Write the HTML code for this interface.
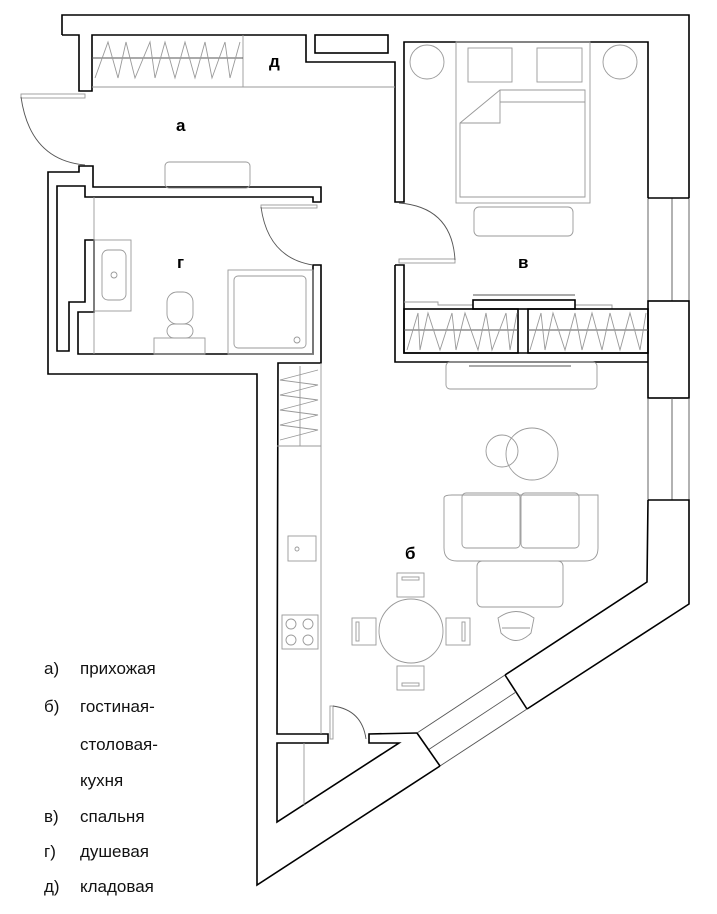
<!DOCTYPE html>
<html><head><meta charset="utf-8"><style>
html,body{margin:0;padding:0;background:#fff;width:717px;height:914px;overflow:hidden}
svg{display:block}
.w{fill:none;stroke:#000;stroke-width:1.6}
.t{fill:none;stroke:#999;stroke-width:0.9}
.tk{fill:none;stroke:#555;stroke-width:0.9}
.lab{font-family:"Liberation Sans","DejaVu Sans",sans-serif;font-weight:bold;font-size:17px;fill:#000}
.leg{font-family:"Liberation Sans","DejaVu Sans",sans-serif;font-size:17px;fill:#111}
</style></head><body>
<svg width="717" height="914" viewBox="0 0 717 914" xmlns="http://www.w3.org/2000/svg">
<!-- top / entry wall -->
<polyline class="w" points="62,35 62,15 689,15 689,198"/>
<polyline class="w" points="62,35 79,35 79,91 92,91 92,35 306,35 306,62 395,62 395,202 404,202 404,42 648,42 648,198"/>
<rect class="w" x="315" y="35" width="73" height="18"/>
<!-- right windows & blocks -->
<line class="tk" x1="648" y1="198" x2="648" y2="301"/><line class="tk" x1="672" y1="198" x2="672" y2="301"/><line class="tk" x1="689" y1="198" x2="689" y2="301"/>
<line class="w" x1="648" y1="198" x2="689" y2="198"/>
<rect class="w" x="648" y="301" width="41" height="97"/>
<line class="tk" x1="648" y1="398" x2="648" y2="500"/><line class="tk" x1="672" y1="398" x2="672" y2="500"/><line class="tk" x1="689" y1="398" x2="689" y2="500"/>
<polyline class="w" points="648,500 689,500 689,604 527,709"/>
<polyline class="w" points="648,500 647,582 505,675"/>
<line class="w" x1="505" y1="675" x2="527" y2="709"/>
<line class="tk" x1="505" y1="675" x2="417" y2="733"/>
<line class="tk" x1="516" y1="692" x2="428" y2="750"/>
<line class="tk" x1="527" y1="709" x2="440" y2="766"/>
<line class="w" x1="417" y1="733" x2="440" y2="766"/>
<polyline class="w" points="440,766 257,885 257,374 48,374 48,172 79,172 79,166 93,166 93,187 321,187 321,202 313,202 313,197 85,197 85,186 57,186 57,351 69,351 69,302 85,302 85,240 94,240 94,312 78,312 78,354 313,354 313,265 321,265 321,363 278,363 277,734 328,734 328,743 277,743 277,822 399,743 369,743 369,734 417,733"/>
<line class="t" x1="304" y1="743" x2="304" y2="805"/>
<!-- bedroom lower wall -->
<polyline class="w" points="395,265 404,265 404,353 648,353"/>
<polyline class="w" points="395,265 395,362 648,362"/>
<!-- entry door -->
<rect class="t" x="21" y="94" width="64" height="4"/>
<path class="tk" d="M21,97 Q30,160 85,165"/>
<!-- bathroom door -->
<rect class="t" x="261" y="205" width="56" height="3"/>
<path class="tk" d="M261,207 Q268,258 313,265"/>
<!-- bedroom door -->
<rect class="t" x="399" y="259" width="56" height="4"/>
<path class="tk" d="M399,203 Q452,207 455,260"/>
<!-- living door -->
<rect class="t" x="330" y="706" width="3" height="33"/>
<path class="tk" d="M333,706 Q362,710 366,739"/>
<!-- storage wardrobe -->
<line class="t" x1="92" y1="87" x2="395" y2="87"/>
<line class="t" x1="243" y1="35" x2="243" y2="87"/>
<line class="tk" x1="92" y1="58" x2="243" y2="58"/>
<polyline class="t" points="95,78 108,42 118,78 126,42 135,78 150,42 155,78 165,42 175,78 185,42 195,78 205,42 212,78 225,42 230,78 240,42"/>
<rect class="t" x="165" y="162" width="85" height="26" rx="4"/>
<!-- bathroom fixtures -->
<line class="t" x1="94" y1="197" x2="94" y2="354"/>
<rect class="t" x="94" y="240" width="37" height="71"/>
<rect class="t" x="102" y="250" width="24" height="50" rx="6"/>
<circle class="t" cx="114" cy="275" r="3"/>
<rect class="t" x="167" y="292" width="26" height="32" rx="10"/>
<rect class="t" x="167" y="324" width="26" height="14" rx="7"/>
<rect class="t" x="154" y="338" width="51" height="16"/>
<rect class="t" x="228" y="270" width="85" height="84"/>
<rect class="t" x="234" y="276" width="72" height="72" rx="4"/>
<circle class="t" cx="297" cy="340" r="3"/>
<!-- bedroom furniture -->
<circle class="t" cx="427" cy="62" r="17"/><circle class="t" cx="620" cy="62" r="17"/>
<rect class="t" x="456" y="42" width="134" height="161"/>
<rect class="t" x="468" y="48" width="44" height="34"/><rect class="t" x="537" y="48" width="45" height="34"/>
<path class="t" d="M500,90 L585,90 L585,197 L460,197 L460,123 Z M500,90 L500,123 L460,123 M500,102 L585,102"/>
<rect class="t" x="474" y="207" width="99" height="29" rx="5"/>
<!-- bedroom wardrobes -->
<polyline class="t" points="404,302 438,302 438,305 473,305"/>
<polyline class="t" points="575,305 612,305 612,309 648,309"/>
<rect class="w" x="473" y="300" width="102" height="9"/>
<line class="tk" x1="473" y1="295" x2="575" y2="295"/>
<rect class="w" x="404" y="309" width="114" height="44"/>
<rect class="w" x="528" y="309" width="120" height="44"/>
<line class="tk" x1="404" y1="330" x2="518" y2="330"/><line class="tk" x1="528" y1="330" x2="648" y2="330"/>
<polyline class="t" points="407,350 418,313 420,350 428,313 440,350 452,313 456,350 465,313 478,350 486,313 492,350 506,313 510,350 517,313"/>
<polyline class="t" points="530,350 541,313 545,350 553,313 565,350 575,313 582,350 592,313 602,350 610,313 620,350 630,313 640,350 646,313"/>
<!-- TV stand -->
<rect class="t" x="446" y="362" width="151" height="27" rx="4"/>
<line class="tk" x1="469" y1="366" x2="571" y2="366"/>
<!-- kitchen -->
<line class="t" x1="321" y1="363" x2="321" y2="734"/>
<line class="t" x1="277" y1="446" x2="321" y2="446"/>
<line class="t" x1="300" y1="366" x2="300" y2="446"/>
<polyline class="t" points="318,370 280,380 318,385 280,395 318,400 280,410 318,415 280,425 318,430 280,440"/>
<rect class="t" x="288" y="536" width="28" height="25"/><circle class="t" cx="297" cy="549" r="2"/>
<rect class="t" x="282" y="615" width="36" height="34"/>
<circle class="t" cx="291" cy="624" r="5"/><circle class="t" cx="308" cy="624" r="5"/><circle class="t" cx="291" cy="640" r="5"/><circle class="t" cx="308" cy="640" r="5"/>
<!-- living -->
<circle class="t" cx="502" cy="451" r="16"/><circle class="t" cx="532" cy="454" r="26"/>
<path class="t" d="M444,498 Q444,495 452,495 L598,495 L598,548 Q598,561 585,561 L457,561 Q444,561 444,548 Z"/>
<rect class="t" x="462" y="493" width="58" height="55" rx="4"/><rect class="t" x="521" y="493" width="58" height="55" rx="4"/>
<rect class="t" x="477" y="561" width="86" height="46" rx="5"/>
<path class="t" d="M498,618 Q516,605 534,618 L531,633 Q516,648 501,633 Z M502,628 L530,628"/>
<circle class="t" cx="411" cy="631" r="32"/>
<rect class="t" x="397" y="573" width="27" height="24"/><rect class="t" x="402" y="577" width="17" height="3"/>
<rect class="t" x="397" y="666" width="27" height="24"/><rect class="t" x="402" y="683" width="17" height="3"/>
<rect class="t" x="352" y="618" width="24" height="27"/><rect class="t" x="356" y="622" width="3" height="19"/>
<rect class="t" x="446" y="618" width="24" height="27"/><rect class="t" x="462" y="622" width="3" height="19"/>
<!-- labels -->
<text class="lab" x="176" y="131">а</text>
<text class="lab" x="269" y="67">д</text>
<text class="lab" x="177" y="268">г</text>
<text class="lab" x="518" y="268">в</text>
<text class="lab" x="405" y="559">б</text>
<!-- legend -->
<g class="leg">
<text x="44" y="674">а)</text><text x="80" y="674">прихожая</text>
<text x="44" y="712">б)</text><text x="80" y="712">гостиная-</text>
<text x="80" y="750">столовая-</text>
<text x="80" y="786">кухня</text>
<text x="44" y="822">в)</text><text x="80" y="822">спальня</text>
<text x="44" y="857">г)</text><text x="80" y="857">душевая</text>
<text x="44" y="892">д)</text><text x="80" y="892">кладовая</text>
</g>
</svg>
</body></html>
